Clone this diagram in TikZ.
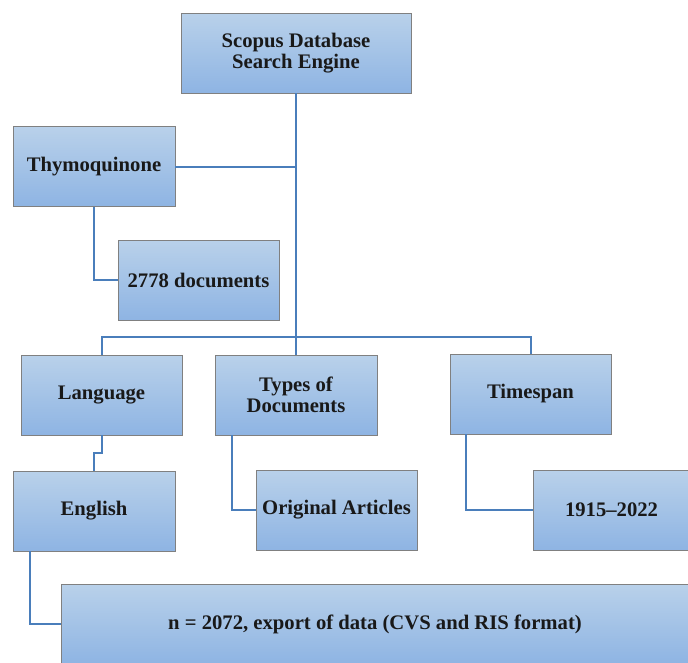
\documentclass[tikz,border=0pt]{standalone}
\usepackage{fontspec}
\setmainfont{Liberation Serif}
\usetikzlibrary{positioning}

\definecolor{boxtop}{HTML}{B9D1EA}
\definecolor{boxbot}{HTML}{8EB4E3}
\definecolor{boxline}{HTML}{808080}
\definecolor{linkblue}{HTML}{4A7EBB}

\begin{document}
\begin{tikzpicture}[x=0.75pt, y=-0.75pt, thick]

   \tikzstyle{stage}=[rectangle, top color=boxtop, bottom color=boxbot, draw=boxline, thin, text=black!90, font=\bfseries\fontsize{15.5}{16}\selectfont, align=center, minimum width=120.75pt, minimum height=60pt, inner sep=0pt]
   \tikzstyle{wire}=[draw=linkblue, line width=1.5pt]

   \useasboundingbox (0,0) rectangle (688,662);

   \node[stage, minimum width=172.5pt] (scopus) at (296,53) {Scopus Database\\Search Engine};
   \node[stage, minimum width=121.5pt] (thymo) at (94,166.5) {Thymoquinone};
   \node[stage] (docs) at (198.5,280) {2778 documents};

   \node[stage] (lang)  at (101.5,395) {Language};
   \node[stage, minimum width=121.5pt] (types) at (296,395) {Types of\\Documents};
   \node[stage] (span)  at (530.5,394) {Timespan};

   \node[stage, minimum width=121.5pt] (eng)  at (94,511) {English};
   \node[stage] (orig) at (336.5,510) {Original Articles};
   \node[stage, minimum width=117.75pt] (years) at (611.5,510) {1915--2022};

   \node[stage, minimum width=471pt, minimum height=60pt] (export) at (375,624) {n = 2072, export of data (CVS and RIS format)};

   \coordinate (hub) at (296,337);

   % main trunk
   \draw[wire] (scopus.south) -- (hub);
   \draw[wire] (thymo.east) -- (thymo.east -| scopus.south);
   \draw[wire] (lang.north) |- (hub) -| (span.north);
   \draw[wire] (types.north) -- (hub);

   % branches
   \draw[wire] (thymo.south) |- (docs.west);
   \draw[wire] (lang.south) -- ++(0,18) -| (eng.north);
   \draw[wire] ([xshift=12.75pt]types.south west) |- (orig.west);
   \draw[wire] ([xshift=12pt]span.south west) |- (years.west);
   \draw[wire] ([xshift=12.75pt]eng.south west) |- (export.west);

\end{tikzpicture}
\end{document}
